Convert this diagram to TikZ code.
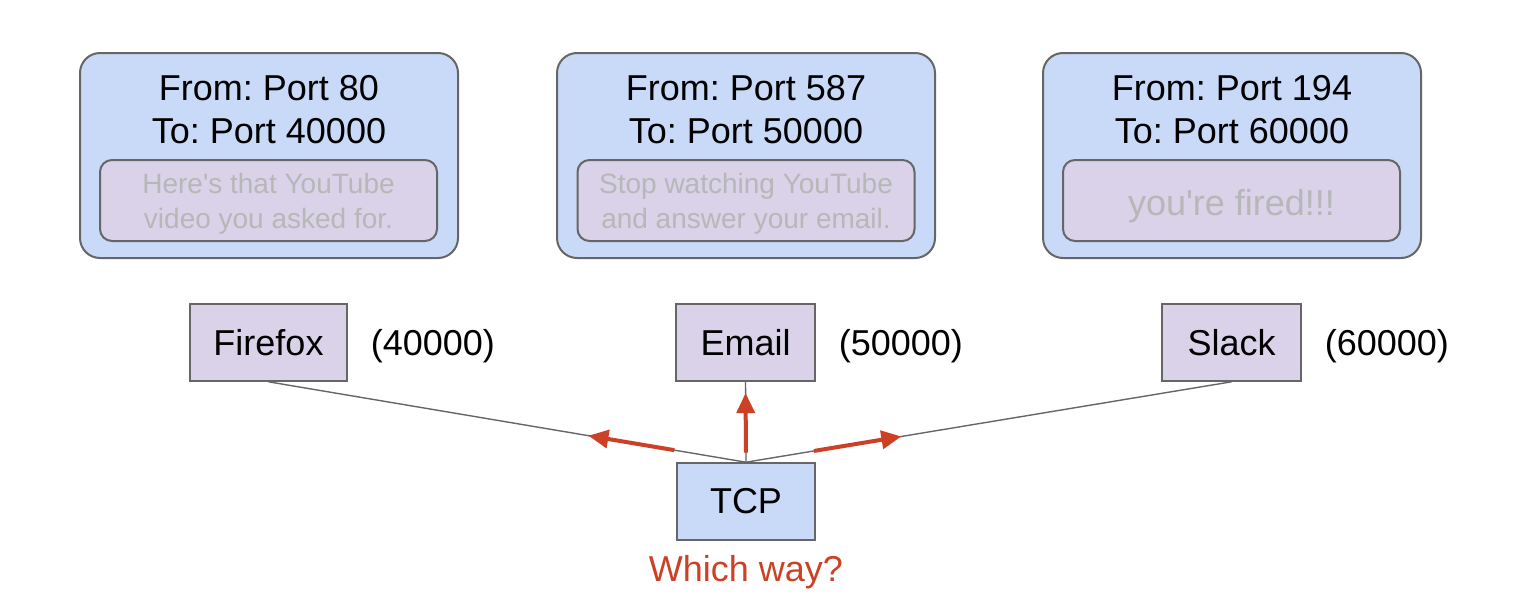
\documentclass[tikz,border=0pt]{standalone}
\usepackage{fontspec}
\setmainfont{Liberation Sans}
\usetikzlibrary{positioning}
\usetikzlibrary{calc}
\usetikzlibrary{arrows.meta}
\definecolor{boxblue}{HTML}{C9DAF8}
\definecolor{boxlav}{HTML}{D9D2E9}
\definecolor{edgegray}{HTML}{666666}
\definecolor{msggray}{HTML}{B7B7B7}
\definecolor{askred}{HTML}{CC4125}
\tikzset{
  packet/.style={draw=edgegray,line width=1pt,fill=boxblue,rounded corners=10pt,
    minimum width=189pt,minimum height=102.5pt},
  header/.style={align=center,font=\fontsize{18}{21.5}\selectfont},
  payload/.style={draw=edgegray,line width=1pt,fill=boxlav,rounded corners=6pt,
    minimum width=168.5pt,minimum height=40.5pt},
  msgtext/.style={text=msggray,align=center,font=\fontsize{14}{17.5}\selectfont},
  app/.style={draw=edgegray,line width=0.8pt,fill=boxlav,minimum width=69.5pt,
    minimum height=38.5pt,font=\fontsize{18}{21.5}\selectfont},
  portlabel/.style={font=\fontsize{18}{21.5}\selectfont},
  link/.style={draw=edgegray,line width=0.7pt},
  ask/.style={draw=askred,line width=2pt,-{Triangle[length=10pt,width=9pt]}}
}
\begin{document}
\frenchspacing
\begin{tikzpicture}[x=0.5pt,y=-0.5pt]
\useasboundingbox (0,0) rectangle (1524,605);

% the three packets
\node[packet] (pkt1) at (269,155.5) {};
\node[header] (hdr1) at (269,109.5) {From: Port 80\\To: Port 40000};
\node[payload] (box1) at (268.5,200.5) {};
\node[msgtext] (msg1) at (268.5,203.5) {Here\textquotesingle s that YouTube\\video you asked for.};

\node[packet] (pkt2) at (746,155.5) {};
\node[header] (hdr2) at (746,109.5) {From: Port 587\\To: Port 50000};
\node[payload] (box2) at (746,200.5) {};
\node[msgtext] (msg2) at (746,203.5) {Stop watching YouTube\\and answer your email.};

\node[packet] (pkt3) at (1232,155.5) {};
\node[header] (hdr3) at (1232,109.5) {From: Port 194\\To: Port 60000};
\node[payload] (box3) at (1231.5,200.5) {};
\node[msgtext,font=\fontsize{18}{21.5}\selectfont] (msg3) at (1231.5,206) {you\textquotesingle re fired!!!};

% the applications
\node[app,minimum width=78.5pt] (firefox) at (268.5,342.5) {Firefox};
\node[portlabel,base right=8pt of firefox] (ffport) {(40000)};
\node[app] (email) at (745.5,342.5) {Email};
\node[portlabel,base right=8pt of email] (emport) {(50000)};
\node[app] (slack) at (1231.5,342.5) {Slack};
\node[portlabel,base right=8pt of slack] (slport) {(60000)};

% tcp and the question
\node[app,fill=boxblue,minimum width=69pt] (tcp) at (746,501.5) {TCP};
\node[portlabel,text=askred] (which) at (746,572) {Which way?};

\draw[link] (tcp.north) -- (firefox.south);
\draw[link] (tcp.north) -- (email.south);
\draw[link] (tcp.north) -- (slack.south);

\draw[ask] ($(tcp.north)!0.15!(firefox.south)$) -- ($(tcp.north)!0.33!(firefox.south)$);
\draw[ask] ($(tcp.north)!0.12!(email.south)$) -- ($(tcp.north)!0.86!(email.south)$);
\draw[ask] ($(tcp.north)!0.14!(slack.south)$) -- ($(tcp.north)!0.32!(slack.south)$);

\end{tikzpicture}
\end{document}
